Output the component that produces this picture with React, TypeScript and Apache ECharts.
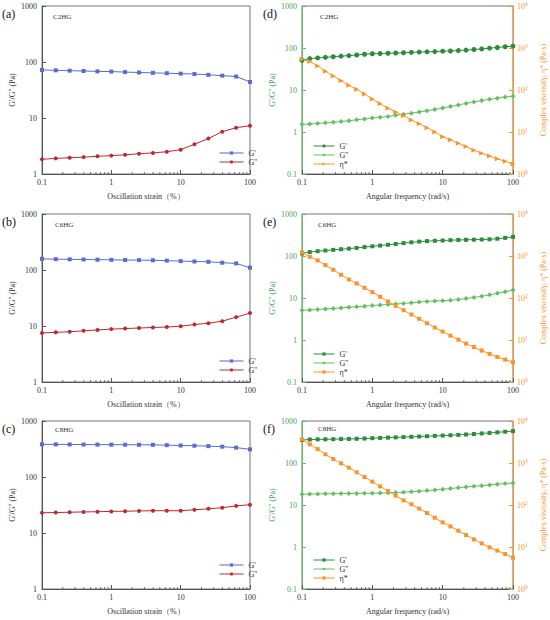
import React, { useEffect, useRef } from 'react';
import * as echarts from 'echarts';

// ---------- data ----------
const STRAIN = [0.1, 0.158, 0.251, 0.398, 0.631, 1, 1.58, 2.51, 3.98, 6.31, 10, 15.8, 25.1, 39.8, 63.1, 100];
const FREQ = [0.1, 0.129, 0.167, 0.215, 0.278, 0.359, 0.464, 0.599, 0.774, 1, 1.29, 1.67, 2.15, 2.78, 3.59, 4.64, 5.99, 7.74, 10, 12.9, 16.7, 21.5, 27.8, 35.9, 46.4, 59.9, 77.4, 100];

const A_G1 = [72, 71, 70, 69, 68, 67.5, 66, 65, 64, 63, 62, 61, 59, 57, 55, 44];
const A_G2 = [1.83, 1.9, 1.95, 2.0, 2.07, 2.13, 2.2, 2.3, 2.38, 2.5, 2.72, 3.4, 4.3, 5.7, 6.7, 7.3];
const B_G1 = [158, 156, 155, 154, 153, 152, 151, 150, 149, 147, 144, 142, 140, 135, 131, 110];
const B_G2 = [7.5, 7.7, 7.9, 8.2, 8.5, 8.8, 9.0, 9.2, 9.4, 9.6, 9.9, 10.6, 11.2, 12.2, 14.4, 17];
const C_G1 = [383, 382, 381, 380, 379, 378, 377, 376, 375, 370, 365, 362, 356, 348, 335, 312];
const C_G2 = [23, 23.2, 23.5, 23.8, 24, 24.3, 24.5, 24.8, 25, 25, 25, 26, 27, 28.3, 30.5, 32];

const D_G1 = [51, 56, 58, 60, 62, 64, 66, 68, 71, 73, 74, 75, 76, 77, 79, 80, 81, 82, 84, 85, 87, 89, 92, 95, 99, 103, 107, 111];
const D_G2 = [1.52, 1.55, 1.6, 1.65, 1.7, 1.78, 1.85, 1.95, 2.05, 2.15, 2.25, 2.35, 2.5, 2.65, 2.8, 3.0, 3.2, 3.45, 3.75, 4.05, 4.4, 4.8, 5.2, 5.6, 6.0, 6.4, 6.8, 7.1];
const D_ETA = [540, 480, 375, 280, 215, 167, 129, 104, 80, 61, 47, 37, 30, 24.5, 19.3, 15.8, 12.7, 10, 7.7, 6.5, 5.4, 4.5, 3.7, 3.1, 2.7, 2.3, 2.0, 1.73];
const E_G1 = [115, 124, 130, 135, 140, 145, 150, 156, 163, 170, 177, 185, 193, 203, 212, 220, 226, 230, 234, 238, 241, 243, 245, 247, 250, 258, 270, 285];
const E_G2 = [5.1, 5.2, 5.35, 5.5, 5.65, 5.8, 6.0, 6.2, 6.4, 6.6, 6.8, 7.0, 7.2, 7.4, 7.7, 8.0, 8.3, 8.5, 8.6, 8.8, 9.2, 9.7, 10.3, 11.0, 11.9, 12.9, 14.1, 15.4];
const E_ETA = [1217, 960, 785, 607, 470, 357, 276, 222, 175, 138, 107, 82.6, 65, 51.3, 40.4, 31.9, 25.1, 19.8, 15.9, 12.7, 10.2, 8.2, 6.8, 5.6, 4.66, 3.95, 3.41, 2.95];
const F_G1 = [353, 362, 365, 367, 369, 371, 374, 378, 383, 390, 396, 402, 408, 414, 420, 427, 434, 442, 450, 458, 468, 478, 490, 505, 520, 537, 555, 575];
const F_G2 = [18, 18.2, 18.4, 18.5, 18.6, 18.7, 18.8, 18.9, 19.0, 19.1, 19.3, 19.5, 19.8, 20.2, 20.7, 21.3, 22.0, 22.8, 23.7, 24.7, 25.8, 26.8, 27.8, 28.8, 30.0, 31.2, 32.3, 33.4];
const F_ETA = [3656, 2780, 2154, 1608, 1245, 982, 774, 600, 464, 359, 278, 215, 167, 129, 104, 81.8, 64.6, 49.9, 38.6, 31.0, 24.5, 19.3, 15.2, 12.2, 9.8, 8.2, 6.8, 5.57];

const MINOR_TICKS = [0.2, 0.3, 0.4, 0.5, 0.6, 0.7, 0.8, 0.9, 2, 3, 4, 5, 6, 7, 8, 9, 20, 30, 40, 50, 60, 70, 80, 90];

const PANEL_LABELS = ['(a)', '(b)', '(c)', '(d)', '(e)', '(f)'];
const SAMPLES = ['C2HG', 'C6HG', 'C8HG', 'C2HG', 'C6HG', 'C8HG'];
const IDS = ['a', 'b', 'c', 'd', 'e', 'f'];

// ---------- styles ----------
const FONT = "'Liberation Serif', 'Times New Roman', 'Noto Serif', serif";
const BLUE = '#5b6bd0';
const RED = '#c0282e';
const DKGREEN = '#2b8c3e';
const LTGREEN = '#62c062';
const ORANGE = '#ff9226';
const AXIS_GREEN = '#4aa05a';
const AXIS_GREY = '#555';

const COL_LEFT = [42, 302];
const COL_WIDTH = [208, 211];
const ROW_TOP = [6, 214, 421];
const GRID_H = 168;

const zip = (xs: number[], ys: number[]) => xs.map((x, i) => [x, ys[i]]);
const plain = (v: number) => String(+Number(v).toPrecision(4));

function buildOption() {
  const grid: any[] = [];
  const xAxis: any[] = [];
  const yAxis: any[] = [];
  const series: any[] = [];
  const legend: any[] = [];
  const graphic: any[] = [];

  const strainSets = [
    [A_G1, A_G2],
    [B_G1, B_G2],
    [C_G1, C_G2],
  ];
  const freqSets = [
    [D_G1, D_G2, D_ETA],
    [E_G1, E_G2, E_ETA],
    [F_G1, F_G2, F_ETA],
  ];
  const legendTopsLeft = [149, 357, 561];
  const legendTopsRight = [142, 350, 556];

  for (let i = 0; i < 6; i++) {
    const col = i < 3 ? 0 : 1;
    const row = i % 3;
    grid.push({
      left: COL_LEFT[col],
      top: ROW_TOP[row],
      width: COL_WIDTH[col],
      height: GRID_H,
      show: true,
      borderColor: '#777',
      borderWidth: 1,
      containLabel: false,
    });
    xAxis.push({
      type: 'log',
      logBase: 10,
      gridIndex: i,
      min: 0.1,
      max: 100,
      splitNumber: 3,
      name: col === 0 ? 'Oscillation strain（%）' : 'Angular frequency (rad/s)',
      nameLocation: 'middle',
      nameGap: 18,
      nameTextStyle: { fontFamily: FONT, fontSize: 8, color: '#333' },
      axisLine: { lineStyle: { color: AXIS_GREY, width: 1 } },
      axisTick: { inside: true, length: 4, lineStyle: { color: AXIS_GREY } },
      axisLabel: { fontFamily: FONT, fontSize: 8, color: '#333', margin: 4, formatter: plain },
      splitLine: { show: false },
    });
    if (col === 0) {
      yAxis.push({
        type: 'log',
        logBase: 10,
        gridIndex: i,
        min: 1,
        max: 1000,
        splitNumber: 3,
        name: "G'/G'' (Pa)",
        nameLocation: 'middle',
        nameGap: 26,
        nameTextStyle: { fontFamily: FONT, fontSize: 8, color: '#333' },
        axisLine: { show: true, lineStyle: { color: AXIS_GREY, width: 1 } },
        axisTick: { show: true, inside: true, length: 4, lineStyle: { color: AXIS_GREY } },
        axisLabel: { fontFamily: FONT, fontSize: 8, color: '#333', margin: 5, formatter: plain },
        splitLine: { show: false },
      });
    } else {
      yAxis.push({
        type: 'log',
        logBase: 10,
        gridIndex: i,
        min: 0.1,
        max: 1000,
        splitNumber: 4,
        name: "G'/G'' (Pa)",
        nameLocation: 'middle',
        nameGap: 26,
        nameTextStyle: { fontFamily: FONT, fontSize: 8, color: AXIS_GREEN },
        axisLine: { show: true, lineStyle: { color: LTGREEN, width: 1 } },
        axisTick: { show: true, inside: true, length: 4, lineStyle: { color: LTGREEN } },
        axisLabel: { fontFamily: FONT, fontSize: 8, color: AXIS_GREEN, margin: 5, formatter: plain },
        splitLine: { show: false },
      });
    }
  }
  // right axes for eta*
  for (let r = 0; r < 3; r++) {
    yAxis.push({
      type: 'log',
      logBase: 10,
      gridIndex: 3 + r,
      position: 'right',
      min: 1,
      max: 10000,
      splitNumber: 4,
      name: 'Complex viscosity, η* (Pa·s)',
      nameLocation: 'middle',
      nameRotate: 90,
      nameGap: 26,
      nameTextStyle: { fontFamily: FONT, fontSize: 8, color: ORANGE },
      axisLine: { show: true, lineStyle: { color: ORANGE, width: 1 } },
      axisTick: { show: true, inside: true, length: 4, lineStyle: { color: ORANGE } },
      axisLabel: {
        fontFamily: FONT,
        fontSize: 8,
        color: ORANGE,
        margin: 4,
        formatter: (v: number) => '10{s|' + Math.round(Math.log10(v)) + '}',
        rich: {
          s: { fontFamily: FONT, fontSize: 5.5, color: ORANGE, verticalAlign: 'top', padding: [0, 0, 5, 0] },
        },
      },
      splitLine: { show: false },
    });
  }

  const lineBase = (name: string, data: number[][], color: string, symbol: string, size: number, xi: number, yi: number, rotate = 0) => ({
    type: 'line',
    name,
    xAxisIndex: xi,
    yAxisIndex: yi,
    data,
    symbol,
    symbolSize: size,
    symbolRotate: rotate,
    showSymbol: true,
    lineStyle: { color, width: 1 },
    itemStyle: { color },
    z: 3,
  });

  const legendCommon = {
    orient: 'vertical',
    padding: 0,
    itemGap: 1,
    itemWidth: 24,
    itemHeight: 4,
    lineStyle: { width: 1 },
    textStyle: { fontFamily: FONT, fontSize: 8, color: '#333', lineHeight: 8 },
    formatter: (n: string) => n.split('|')[0],
  };

  for (let r = 0; r < 3; r++) {
    const id = IDS[r];
    const [g1, g2] = strainSets[r];
    series.push(lineBase("G'|" + id, zip(STRAIN, g1), BLUE, 'rect', 4, r, r));
    series.push(lineBase("G''|" + id, zip(STRAIN, g2), RED, 'circle', 4, r, r));
    legend.push({
      ...legendCommon,
      left: 219,
      top: legendTopsLeft[r],
      data: ["G'|" + id, "G''|" + id],
    });
  }
  for (let r = 0; r < 3; r++) {
    const i = 3 + r;
    const id = IDS[i];
    const [g1, g2, eta] = freqSets[r];
    const first = r === 0;
    series.push(lineBase("G'|" + id, zip(FREQ, g1), DKGREEN, first ? 'circle' : 'rect', first ? 5 : 4, i, i));
    series.push(lineBase("G''|" + id, zip(FREQ, g2), LTGREEN, 'diamond', 5, i, i));
    series.push(lineBase('η*|' + id, zip(FREQ, eta), ORANGE, first ? 'triangle' : 'rect', first ? 5 : 4, i, 6 + r, first ? -90 : 0));
    legend.push({
      ...legendCommon,
      itemWidth: 21,
      left: 313,
      top: legendTopsRight[r],
      data: ["G'|" + id, "G''|" + id, 'η*|' + id],
    });
  }

  // minor ticks on bottom axes
  for (let i = 0; i < 6; i++) {
    const yMin = i < 3 ? 1 : 0.1;
    series.push({
      type: 'custom',
      xAxisIndex: i,
      yAxisIndex: i,
      silent: true,
      clip: false,
      z: 1,
      data: MINOR_TICKS.map((v) => [v, yMin]),
      encode: { x: 0, y: 1 },
      renderItem: (_p: any, api: any) => {
        const pt = api.coord([api.value(0), api.value(1)]);
        return {
          type: 'line',
          shape: { x1: pt[0], y1: pt[1], x2: pt[0], y2: pt[1] - 2 },
          style: { stroke: AXIS_GREY, lineWidth: 0.8 },
        };
      },
    });
  }

  // panel letters and sample names
  const labelPos = [
    [2, 15], [2, 223], [2, 430],
    [263, 15], [263, 223], [263, 430],
  ];
  const samplePos = [
    [53, 17], [55, 225], [55, 430],
    [320, 17], [318, 225], [318, 429],
  ];
  for (let i = 0; i < 6; i++) {
    graphic.push({
      type: 'text',
      left: labelPos[i][0],
      top: labelPos[i][1] - 7,
      style: { text: PANEL_LABELS[i], fontFamily: FONT, fontSize: 12, fill: '#111' },
    });
    graphic.push({
      type: 'text',
      left: samplePos[i][0],
      top: samplePos[i][1] - 4,
      style: { text: SAMPLES[i], fontFamily: FONT, fontSize: 7, fill: '#333' },
    });
  }

  return {
    animation: false,
    backgroundColor: '#fff',
    textStyle: { fontFamily: FONT },
    grid,
    xAxis,
    yAxis,
    series,
    legend,
    graphic,
  };
}

export default function App() {
  const ref = useRef<HTMLDivElement>(null);
  useEffect(() => {
    document.body.style.margin = '0';
    const chart = echarts.init(ref.current as HTMLDivElement, null, { renderer: 'svg' });
    chart.setOption(buildOption() as any);
    return () => chart.dispose();
  }, []);
  return <div ref={ref} style={{ width: 550, height: 620 }} />;
}
